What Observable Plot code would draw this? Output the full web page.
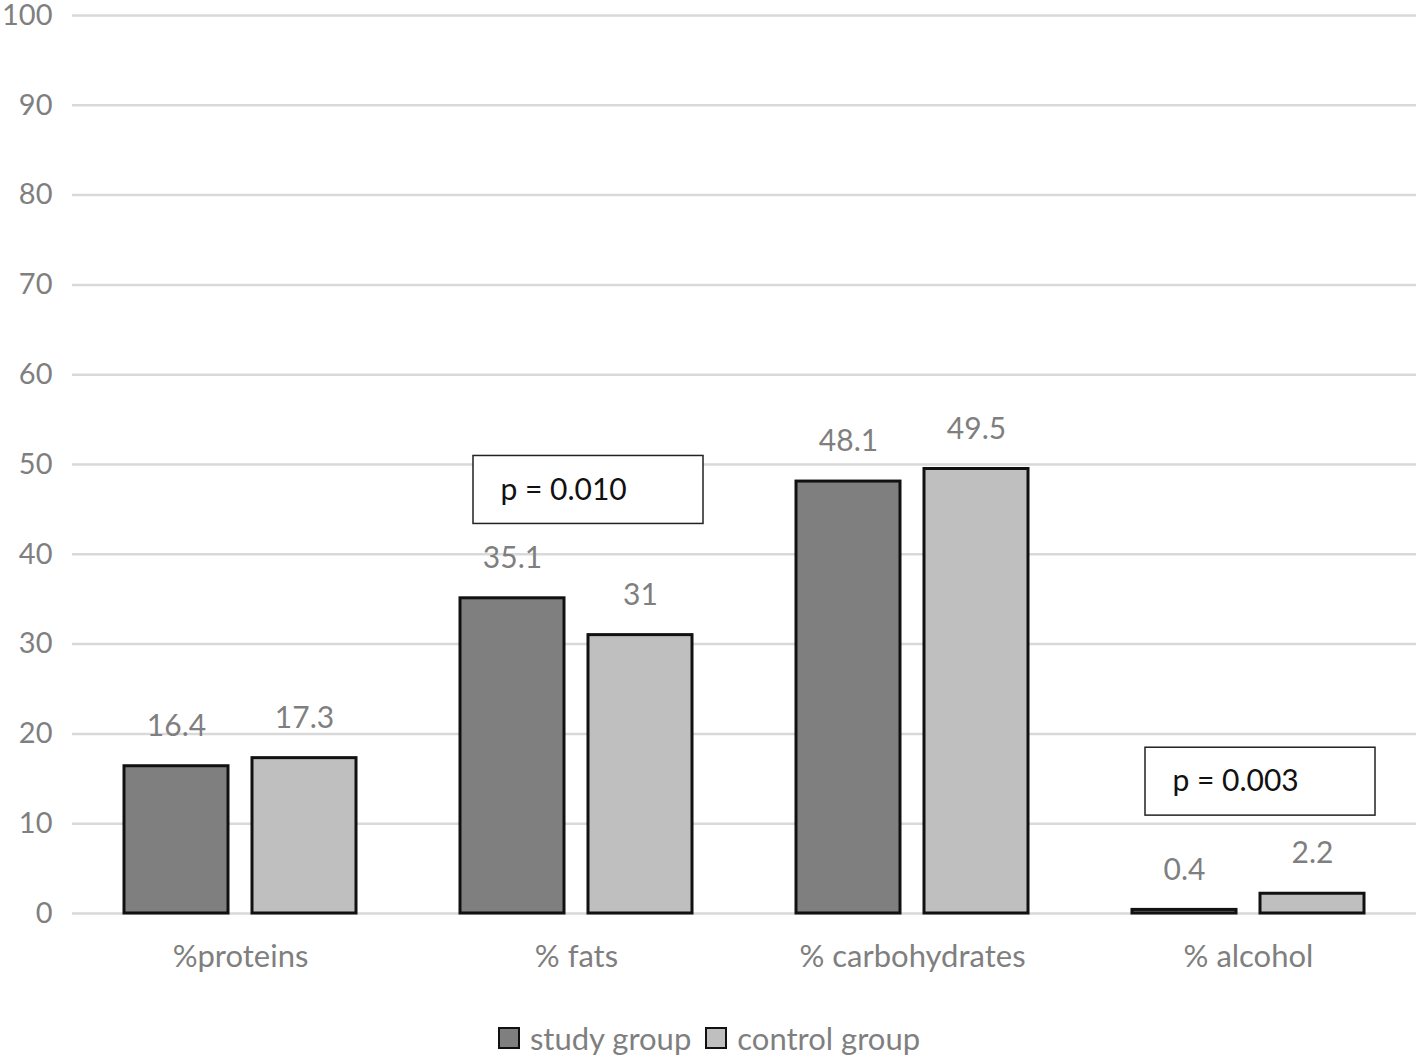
<!DOCTYPE html>
<html>
<head>
<meta charset="utf-8">
<script src="https://cdn.jsdelivr.net/npm/d3@7"></script>
<script src="https://cdn.jsdelivr.net/npm/@observablehq/plot@0.6"></script>
<style>
  body { margin: 0; background: white; }
  #chart svg { display: block; }
  #legend { display: flex; justify-content: center; align-items: center; height: 36px; margin-top: 20px;
            font-family: Lato, sans-serif; font-size: 31px; color: #7f7f7f; }
  .sw { width: 18px; height: 18px; border: 2.5px solid #111; display: inline-block; margin-right: 10px; }
  .item { display: flex; align-items: center; margin: 0 7px; }
</style>
</head>
<body>
<div id="chart"></div>
<div id="legend"></div>
<script>
const categories = ["%proteins", "% fats", "% carbohydrates", "% alcohol"];
const groups = ["study group", "control group"];
const studyValues = [16.4, 35.1, 48.1, 0.4];
const controlValues = [17.3, 31, 49.5, 2.2];
const groupColors = ["#7f7f7f", "#bfbfbf"];
const yTicks = [0, 10, 20, 30, 40, 50, 60, 70, 80, 90, 100];
const pCategories = ["% fats", "% alcohol"];
const pLabels = ["p = 0.010", "p = 0.003"];
const pTop = [50.95, 18.46];
const pBottom = [43.38, 10.9];

const data = [];
categories.forEach((c, i) => {
  data.push({category: c, group: groups[0], value: studyValues[i]});
  data.push({category: c, group: groups[1], value: controlValues[i]});
});
const pBoxes = pCategories.map((c, i) => ({category: c, label: pLabels[i], y1: pBottom[i], y2: pTop[i]}));

const chart = Plot.plot({
  width: 1418,
  height: 1000,
  marginLeft: 72,
  marginRight: 2,
  marginTop: 15,
  marginBottom: 87,
  style: {fontFamily: "Lato, sans-serif", fontSize: "30px", color: "#7f7f7f", background: "white"},
  fx: {domain: categories, padding: 0, label: null},
  x: {domain: groups, paddingInner: 0.1875, paddingOuter: 0.406, axis: null},
  y: {domain: [0, 100], label: null},
  color: {domain: groups, range: groupColors},
  marks: [
    Plot.gridY(yTicks, {stroke: "#d9d9d9", strokeOpacity: 1, strokeWidth: 2.5}),
    Plot.axisY(yTicks, {tickSize: 0, tickPadding: 20, fontSize: 29, label: null, fill: "#7f7f7f"}),
    Plot.axisFx({anchor: "bottom", tickSize: 0, tickPadding: 31, fontSize: 31, label: null, fill: "#7f7f7f"}),
    Plot.barY(data, {fx: "category", x: "group", y: "value", fill: "group", stroke: "#111", strokeWidth: 3}),
    Plot.text(data, {fx: "category", x: "group", y: "value", text: d => String(d.value), dy: -40, fill: "#7f7f7f", fontSize: 30}),
    Plot.rect(pBoxes, {fx: "category", y1: "y1", y2: "y2", insetLeft: 65, insetRight: 41, fill: "white", stroke: "#222", strokeWidth: 1.5}),
    Plot.text(pBoxes, {fx: "category", y: d => (d.y1 + d.y2) / 2, text: "label", frameAnchor: "left", dx: 92, textAnchor: "start", fill: "#111", fontSize: 30})
  ]
});
document.getElementById("chart").appendChild(chart);

const legend = document.getElementById("legend");
groups.forEach((g, i) => {
  const item = document.createElement("span");
  item.className = "item";
  const sw = document.createElement("span");
  sw.className = "sw";
  sw.style.background = groupColors[i];
  item.appendChild(sw);
  item.appendChild(document.createTextNode(g));
  legend.appendChild(item);
});
</script>
</body>
</html>
